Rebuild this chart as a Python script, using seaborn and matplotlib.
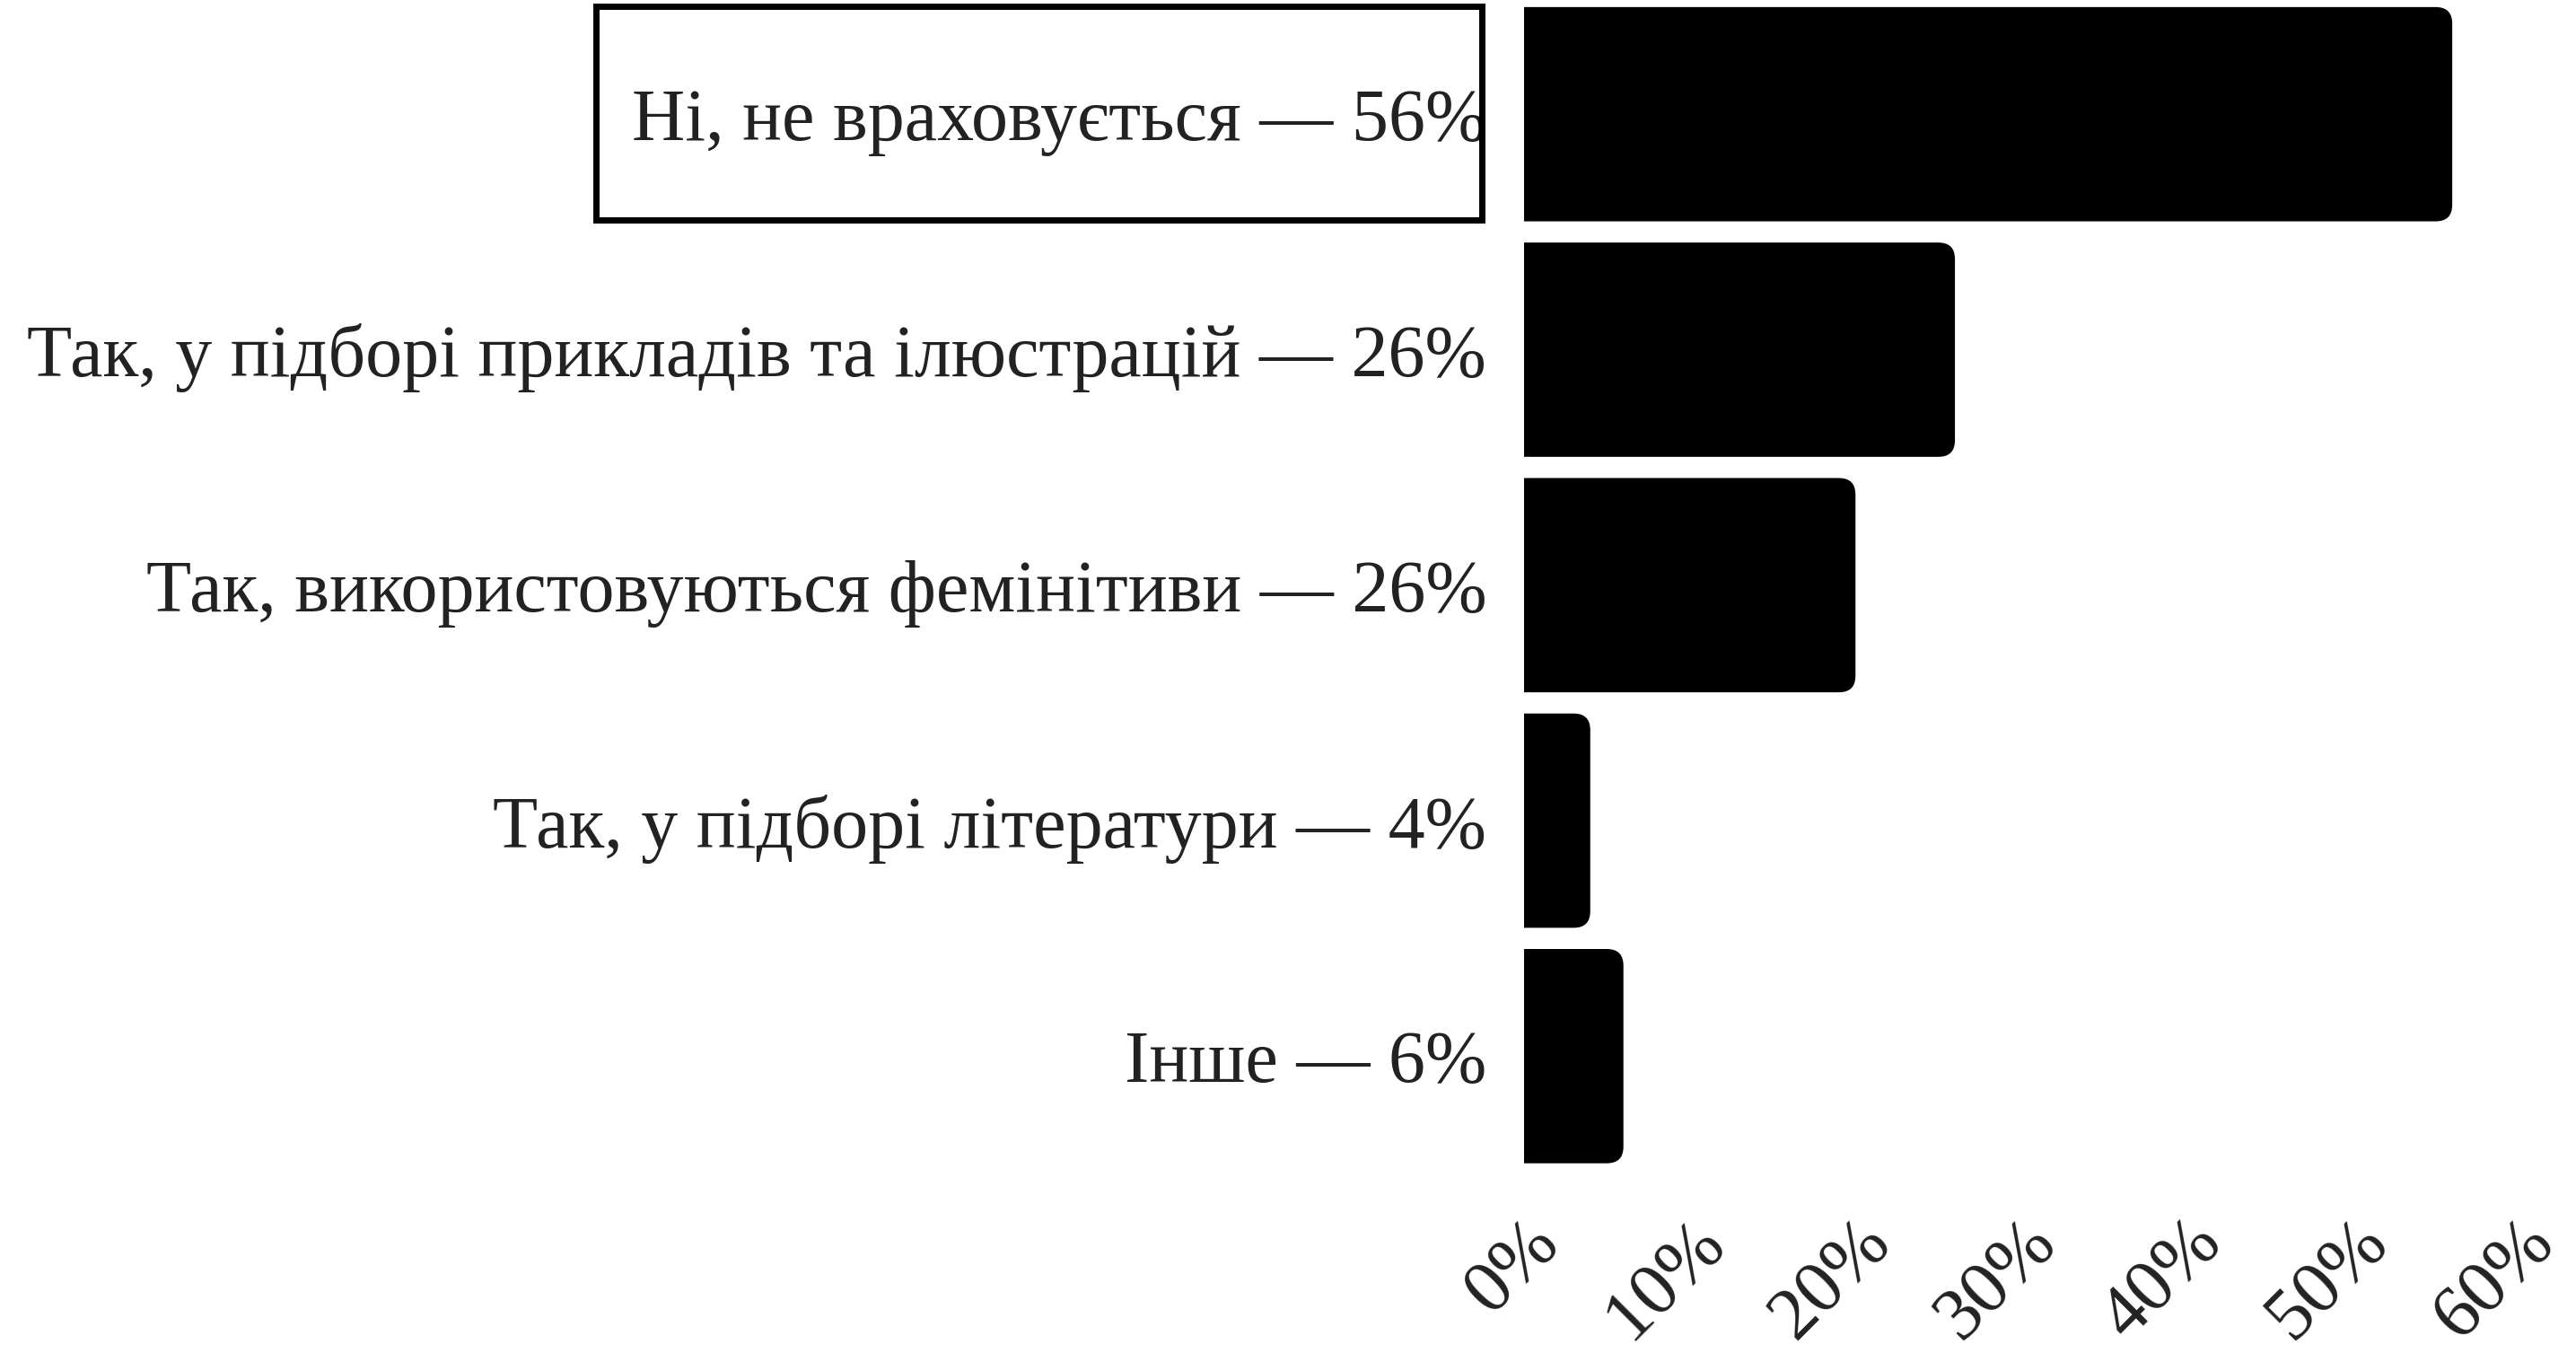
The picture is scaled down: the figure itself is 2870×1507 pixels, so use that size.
import matplotlib
matplotlib.use("Agg")
import matplotlib.pyplot as plt
from matplotlib.patches import FancyBboxPatch, Rectangle
import seaborn as sns

labels = [
    "Ні, не враховується — 56%",
    "Так, у підборі прикладів та ілюстрацій — 26%",
    "Так, використовуються фемінітиви — 26%",
    "Так, у підборі літератури — 4%",
    "Інше — 6%",
]
values = [56, 26, 20, 4, 6]
x_ticks = [0, 10, 20, 30, 40, 50, 60]
x_tick_labels = ["0%", "10%", "20%", "30%", "40%", "50%", "60%"]

sns.set_theme(style="white")
plt.rcParams["font.family"] = ["Liberation Serif", "DejaVu Serif"]
TEXT = "#222222"

fig = plt.figure(figsize=(28.7, 15.07), dpi=100)
ax = fig.add_axes([0.5916, 0.135, 0.3861, 0.865])

sns.barplot(x=values, y=labels, color="black", orient="h", width=0.91,
            saturation=1, ax=ax)

ax.set_xlim(0, 60)
ax.set_ylim(4.485, -0.485)

# swap plain rectangles for ones with rounded right corners
x_px = ax.bbox.width / 60
y_px = ax.bbox.height / 4.97
aspect = x_px / y_px
for bar in list(ax.patches):
    x0, y0 = bar.get_x(), bar.get_y()
    w, h = bar.get_width(), bar.get_height()
    bar.remove()
    rounded = FancyBboxPatch(
        (x0 - 3, y0), w + 3, h,
        boxstyle="round,pad=0,rounding_size=1.0",
        mutation_aspect=aspect, fc="black", ec="none",
    )
    ax.add_patch(rounded)

sns.despine(ax=ax, left=True, bottom=True)
ax.set_xlabel("")
ax.set_ylabel("")
ax.set_xticks(x_ticks)
ax.set_xticklabels(x_tick_labels, rotation=45, ha="right",
                   rotation_mode="anchor")
ax.tick_params(axis="y", length=0, pad=30, labelsize=59, labelcolor=TEXT)
ax.tick_params(axis="x", length=0, pad=30, labelsize=60, labelcolor=TEXT)

# frame around the first answer
fig.canvas.draw()
lab = ax.get_yticklabels()[0]
bb = lab.get_window_extent()
top_bar = ax.transData.transform([(0, -0.46), (0, 0.45)])
y_lo, y_hi = sorted([top_bar[0][1], top_bar[1][1]])
frame = Rectangle(
    (bb.x0 - 40, y_lo), (bb.x1 - 5) - (bb.x0 - 40), y_hi - y_lo,
    transform=None, fill=False, ec="black", lw=5, zorder=5,
)
fig.add_artist(frame)

fig.savefig("out.png", dpi=100)
